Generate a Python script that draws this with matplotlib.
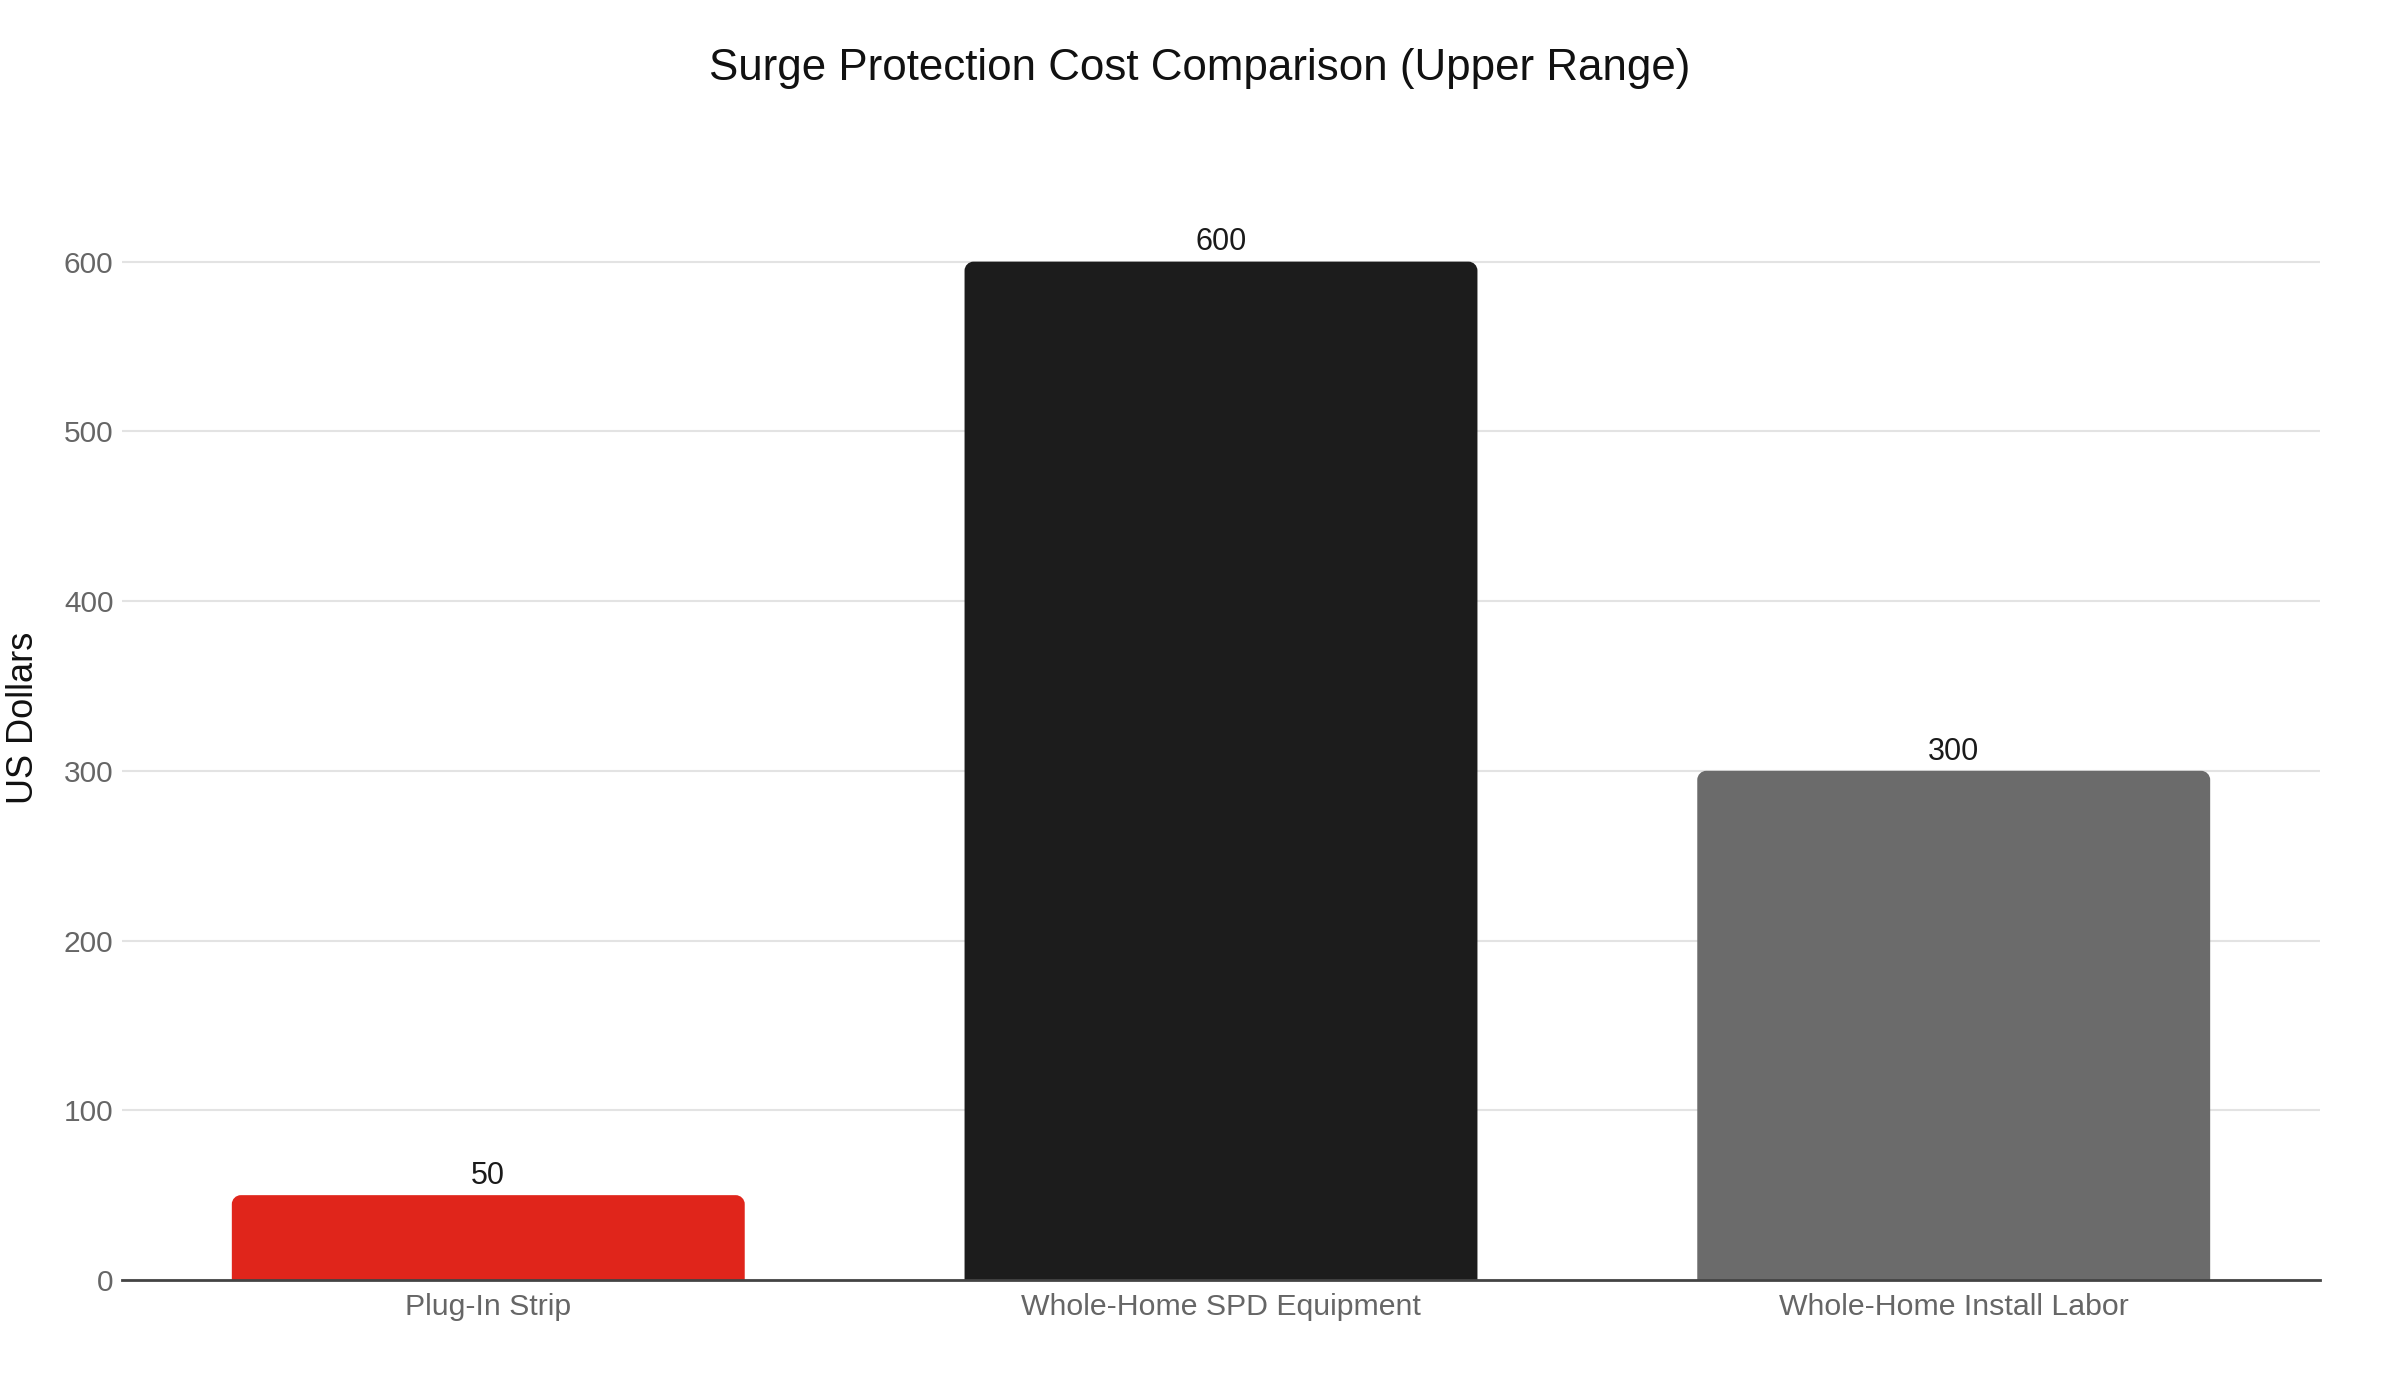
import matplotlib
matplotlib.use("Agg")
import matplotlib.pyplot as plt
from matplotlib.path import Path
from matplotlib.patches import PathPatch

plt.rcParams['font.family'] = ['Liberation Sans', 'DejaVu Sans']

categories = ["Plug-In Strip", "Whole-Home SPD Equipment", "Whole-Home Install Labor"]
values = [50, 600, 300]
colors = ["#E0251B", "#1C1C1C", "#6B6B6B"]
yticks = [0, 100, 200, 300, 400, 500, 600]
title = "Surge Protection Cost Comparison (Upper Range)"
ylabel = "US Dollars"

fig = plt.figure(figsize=(24, 14), dpi=100)
ax = fig.add_axes([0.0508, 0.0857, 0.9159, 0.805])
ax.set_xlim(-0.5, 2.5)
ax.set_ylim(0, 664)

bars = ax.bar(range(len(categories)), values, width=0.7, color=colors, zorder=3)

# replace rectangles by top-rounded shapes
fig.canvas.draw()
px_per_x = ax.transData.transform((1, 0))[0] - ax.transData.transform((0, 0))[0]
px_per_y = ax.transData.transform((0, 1))[1] - ax.transData.transform((0, 0))[1]
r_px = 9
rx = r_px / px_per_x
ry = r_px / px_per_y
k = 0.5523
for rect in bars:
    x0, y0 = rect.get_x(), rect.get_y()
    w, h = rect.get_width(), rect.get_height()
    x1, y1 = x0 + w, y0 + h
    verts = [
        (x0, y0), (x0, y1 - ry),
        (x0, y1 - ry + k * ry), (x0 + rx - k * rx, y1), (x0 + rx, y1),
        (x1 - rx, y1),
        (x1 - rx + k * rx, y1), (x1, y1 - ry + k * ry), (x1, y1 - ry),
        (x1, y0), (x0, y0),
    ]
    codes = [Path.MOVETO, Path.LINETO,
             Path.CURVE4, Path.CURVE4, Path.CURVE4,
             Path.LINETO,
             Path.CURVE4, Path.CURVE4, Path.CURVE4,
             Path.LINETO, Path.CLOSEPOLY]
    patch = PathPatch(Path(verts, codes), facecolor=rect.get_facecolor(),
                      edgecolor='none', zorder=3)
    ax.add_patch(patch)
    rect.set_visible(False)
    ax.annotate(f"{int(h)}", (x0 + w / 2, y1), xytext=(0, 3),
                textcoords='offset points', ha='center', va='bottom',
                fontsize=22, color='#1a1a1a', zorder=4)

ax.set_yticks(yticks)
ax.set_yticklabels([str(t) for t in yticks])
ax.set_xticks(range(len(categories)))
ax.set_xticklabels(categories)
ax.tick_params(axis='y', length=0, pad=6, labelsize=21.5, labelcolor='#666666')
ax.tick_params(axis='x', length=0, pad=9, labelsize=21.8, labelcolor='#666666')
ax.yaxis.grid(True, color='#e3e3e3', linewidth=1.5, zorder=0)
ax.set_axisbelow(True)
for s in ['top', 'right', 'left']:
    ax.spines[s].set_visible(False)
ax.spines['bottom'].set_color('#444444')
ax.spines['bottom'].set_linewidth(2)
ax.spines['bottom'].set_zorder(5)

ax.set_ylabel(ylabel, fontsize=26, color='#111111', labelpad=14)
ax.yaxis.set_label_coords(-0.037, 0.5 + (1280 - 718 - 0.5 * 1127) / 1127)

fig.text(0.5, 1 - 80 / 1400, title, ha='center', va='baseline',
         fontsize=31.6, color='#111111')

fig.savefig("out.png", dpi=100, facecolor='white')
